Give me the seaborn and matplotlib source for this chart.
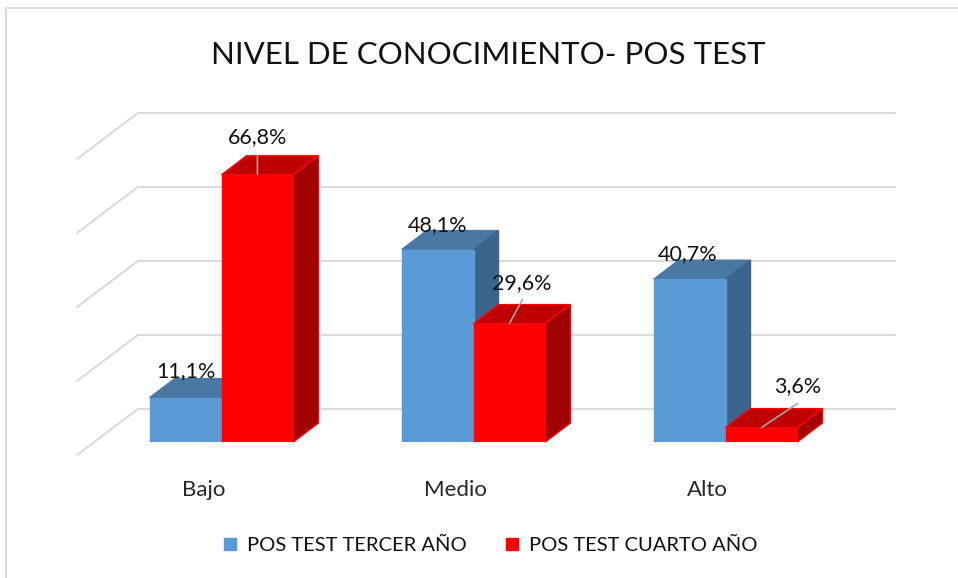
import pandas as pd
import matplotlib.pyplot as plt
import seaborn as sns
from matplotlib.lines import Line2D
from matplotlib.patches import Polygon
from matplotlib.transforms import ScaledTranslation

categories = ['Bajo', 'Medio', 'Alto']
tercer = [11.1, 48.1, 40.7]
cuarto = [66.8, 29.6, 3.6]
tercer_labels = ['11,1%', '48,1%', '40,7%']
cuarto_labels = ['66,8%', '29,6%', '3,6%']
series_names = ['POS TEST TERCER AÑO', 'POS TEST CUARTO AÑO']
title = 'NIVEL DE CONOCIMIENTO- POS TEST'

W, H = 958, 578
# 3D look: pixels of depth on the bars
DEPTH_X, DEPTH_Y = 25, 19

sns.set_theme(style='white')
plt.rcParams['font.family'] = ['Lato', 'DejaVu Sans']
plt.rcParams['text.color'] = '#111111'

data = pd.DataFrame({
    'nivel': categories * 2,
    'valor': tercer + cuarto,
    'serie': [series_names[0]] * 3 + [series_names[1]] * 3,
})

fig = plt.figure(figsize=(W / 100, H / 100), dpi=100)

# Background layer in pixel coordinates: chart frame and the 3D wall grid
bg = fig.add_axes([0, 0, 1, 1], zorder=0)
bg.set_xlim(0, W)
bg.set_ylim(H, 0)
bg.axis('off')
bg.plot([6.5, 6.5, W], [H, 7.5, 7.5], color='#D9D9D9', lw=1.4)
for y in [113, 187, 261, 335, 409]:
    bg.plot([77, 138, 895], [y + 46, y, y], color='#D9D9D9', lw=1.4)

left, right, top, bottom = 76, 895, 100, 442
ax = fig.add_axes([left / W, 1 - bottom / H, (right - left) / W, (bottom - top) / H], zorder=1)
ax.patch.set_alpha(0)
sns.barplot(data, x='nivel', y='valor', hue='serie', palette=['#5B9BD5', '#FF0000'],
            saturation=1, width=0.57, ax=ax, legend=False)
ax.set_xlim((left - 221.5) / 252, (right - 221.5) / 252)
ax.set_ylim(0, (bottom - top) / 4)
ax.set_xlabel('')
ax.set_ylabel('')
ax.set_yticks([])
sns.despine(ax=ax, left=True, bottom=True)
ax.tick_params(axis='x', length=0, pad=27, labelsize=16)
shift = ScaledTranslation(-18 / 100, 0, fig.dpi_scale_trans)
for lab in ax.get_xticklabels():
    lab.set_transform(lab.get_transform() + shift)

dx = DEPTH_X / 252
dy = DEPTH_Y / 4
styles = [
    {'top': '#4A78A4', 'side': '#3B658B', 'edge': None, 'z': 2},
    {'top': '#BF0000', 'side': '#A00000', 'edge': '#FF0000', 'z': 4},
]
for cont, st in zip(ax.containers, styles):
    for bar in cont:
        x0 = bar.get_x()
        x1 = x0 + bar.get_width()
        h = bar.get_height()
        bar.set_zorder(st['z'] + 1)
        bar.set_edgecolor(st['edge'] or bar.get_facecolor())
        bar.set_linewidth(1)
        top_face = [(x0, h), (x1, h), (x1 + dx, h + dy), (x0 + dx, h + dy)]
        side_face = [(x1, 0), (x1 + dx, dy), (x1 + dx, h + dy), (x1, h)]
        kw = dict(zorder=st['z'], clip_on=False, lw=1)
        ax.add_patch(Polygon(top_face, fc=st['top'], ec=st['edge'] or st['top'], **kw))
        ax.add_patch(Polygon(side_face, fc=st['side'], ec=st['edge'] or st['side'], **kw))

# value labels, offsets in pixels from the top centre of the front face
label_sets = [
    (tercer_labels, [(0, 27), (0, 25), (-2, 25)], [None, None, None]),
    (cuarto_labels, [(0, 38), (12, 41), (36, 42)], [(0, 19), (13, 24), (36, 24)]),
]
for cont, (labels, offsets, leaders) in zip(ax.containers, label_sets):
    for bar, lab, off, lead in zip(cont, labels, offsets, leaders):
        xy = (bar.get_x() + bar.get_width() / 2, bar.get_height())
        ax.annotate(lab, xy, xytext=off, textcoords='offset pixels', ha='center', va='center',
                    fontsize=15.5, zorder=10, annotation_clip=False)
        if lead:
            ax.annotate('', xy, xytext=lead, textcoords='offset pixels', zorder=9,
                        annotation_clip=False,
                        arrowprops=dict(arrowstyle='-', color='#A6A6A6', lw=1.2,
                                        shrinkA=0, shrinkB=0))

fig.text(488 / W, 1 - 55 / H, title, ha='center', va='center', fontsize=22.5)

handles = [Line2D([], [], marker='s', ls='', ms=8.5, color=c) for c in ['#5B9BD5', '#FF0000']]
fig.legend(handles, series_names, loc='center', bbox_to_anchor=(490 / W, 1 - 545 / H), ncol=2,
           frameon=False, fontsize=14.5, handlelength=0.7, handletextpad=0.5, columnspacing=1.9)

fig.savefig('out.png', dpi=100)
